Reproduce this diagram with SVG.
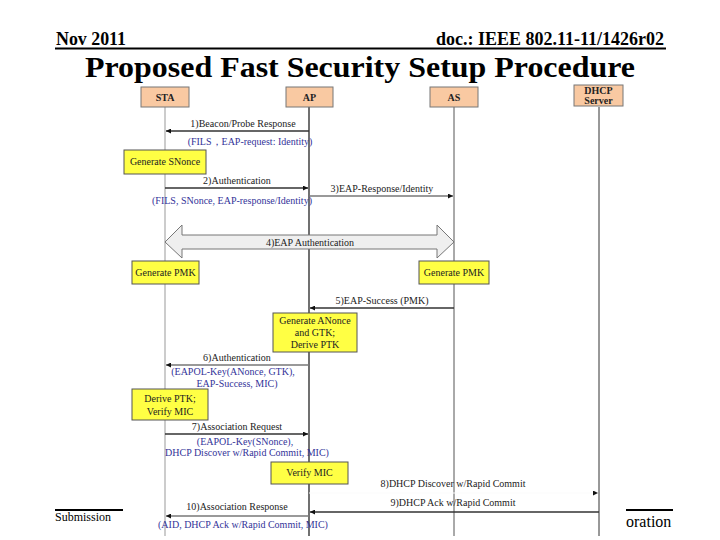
<svg xmlns="http://www.w3.org/2000/svg" width="720" height="540" viewBox="0 0 720 540">
<style>
.hdr{font-family:"Liberation Serif","Times New Roman",serif;font-weight:bold;fill:#000}
.t{font-family:"Liberation Serif","Times New Roman",serif;font-size:10px;fill:#222}
.b{font-family:"Liberation Serif","Times New Roman",serif;font-size:10px;fill:#333399}
.part{fill:#F9C9A2;stroke:#777;stroke-width:1}
.pt{font-family:"Liberation Serif","Times New Roman",serif;font-size:10px;font-weight:bold;fill:#222;text-anchor:middle}
.note{fill:#FFFF44;stroke:#555;stroke-width:1}
.nt{font-family:"Liberation Serif","Times New Roman",serif;font-size:10px;fill:#222;text-anchor:middle}
.msg{stroke:#333;stroke-width:1.3;fill:none}
.msgg{stroke:#777;stroke-width:1.3;fill:none}
.c{text-anchor:middle}
</style>
<defs>
<marker id="ah" viewBox="0 0 10 10" refX="10" refY="5" markerWidth="7" markerHeight="5" markerUnits="userSpaceOnUse" orient="auto">
<path d="M0,0 L10,5 L0,10 z" fill="#111"/>
</marker>
</defs>
<rect width="720" height="540" fill="#fff"/>

<g id="header">
<text class="hdr" x="56" y="45" font-size="18" textLength="70" lengthAdjust="spacingAndGlyphs">Nov 2011</text>
<text class="hdr" x="436" y="45" font-size="18" textLength="228" lengthAdjust="spacingAndGlyphs">doc.: IEEE 802.11-11/1426r02</text>
<line x1="55" y1="48.5" x2="666" y2="48.5" stroke="#000" stroke-width="2"/>
<text class="hdr" x="360" y="77" font-size="30" text-anchor="middle" textLength="550" lengthAdjust="spacingAndGlyphs">Proposed Fast Security Setup Procedure</text>
</g>

<g id="footer">
<line x1="55" y1="510" x2="123" y2="510" stroke="#000" stroke-width="2"/>
<text x="55" y="521" font-family="Liberation Serif, Times New Roman, serif" font-size="12">Submission</text>
<line x1="626" y1="510" x2="673" y2="510" stroke="#000" stroke-width="2"/>
<text x="626" y="527" font-family="Liberation Serif, Times New Roman, serif" font-size="16">oration</text>
</g>

<g id="lifelines">
<line x1="165" y1="107" x2="165" y2="536" stroke="#999" stroke-width="1"/>
<line x1="309" y1="107" x2="309" y2="536" stroke="#111" stroke-width="1.2"/>
<line x1="454" y1="107" x2="454" y2="536" stroke="#555" stroke-width="1"/>
<line x1="599" y1="107" x2="599" y2="536" stroke="#333" stroke-width="1"/>
</g>

<g id="STA"><rect class="part" x="141" y="87" width="48" height="20"/><text class="pt" x="165" y="101">STA</text></g>
<g id="AP"><rect class="part" x="286" y="87" width="47" height="20"/><text class="pt" x="309.5" y="101">AP</text></g>
<g id="AS"><rect class="part" x="430" y="87" width="48" height="20"/><text class="pt" x="454" y="101">AS</text></g>
<g id="DHCP"><rect class="part" x="574" y="85" width="49" height="21"/><text class="pt" x="598.5" y="94">DHCP</text><text class="pt" x="598.5" y="104">Server</text></g>

<g id="connectors">
<line class="msg" x1="309" y1="131" x2="166" y2="131" marker-end="url(#ah)"/>
<line class="msg" x1="165" y1="188" x2="308" y2="188" marker-end="url(#ah)"/>
<line class="msgg" x1="309" y1="196" x2="453" y2="196" marker-end="url(#ah)"/>
<path id="eap" d="M165,242 L182,225 L182,235 L437,235 L437,225 L454,242 L437,258 L437,249 L182,249 L182,258 Z" fill="#EFEFEF" stroke="#777" stroke-width="1"/>
<line class="msg" x1="454" y1="308" x2="310" y2="308" marker-end="url(#ah)"/>
<line class="msgg" x1="309" y1="365" x2="166" y2="365" marker-end="url(#ah)"/>
<line class="msg" x1="165" y1="434" x2="308" y2="434" marker-end="url(#ah)"/>
<line x1="309" y1="493" x2="598" y2="493" stroke="#fbfbfb" stroke-width="1" marker-end="url(#ah)"/>
<line class="msg" x1="599" y1="512" x2="310" y2="512" marker-end="url(#ah)"/>
<line class="msgg" x1="309" y1="516" x2="166" y2="516" marker-end="url(#ah)"/>
</g>

<g id="labels">
<text class="t c" x="243" y="127">1)Beacon/Probe Response</text>
<text class="b c" x="250" y="145">(FILS，EAP-request: Identity)</text>
<text class="t c" x="237" y="184">2)Authentication</text>
<text class="b c" x="232" y="204">(FILS, SNonce, EAP-response/Identity)</text>
<text class="t c" x="382" y="192">3)EAP-Response/Identity</text>
<text class="t c" x="310" y="245.5">4)EAP Authentication</text>
<text class="t c" x="382" y="304">5)EAP-Success (PMK)</text>
<text class="t c" x="237" y="361">6)Authentication</text>
<text class="b c" x="233" y="375">(EAPOL-Key(ANonce, GTK),</text>
<text class="b c" x="237" y="387">EAP-Success, MIC)</text>
<text class="t c" x="237" y="430">7)Association Request</text>
<text class="b c" x="245" y="445">(EAPOL-Key(SNonce),</text>
<text class="b c" x="247" y="456">DHCP Discover w/Rapid Commit, MIC)</text>
<text class="t c" x="453" y="487">8)DHCP Discover w/Rapid Commit</text>
<text class="t c" x="453" y="506">9)DHCP Ack w/Rapid Commit</text>
<text class="t c" x="237" y="510">10)Association Response</text>
<text class="b c" x="243" y="528">(AID, DHCP Ack w/Rapid Commit, MIC)</text>
</g>

<g id="genSNonce"><rect class="note" x="124" y="150" width="82" height="24"/><text class="nt" x="165" y="165">Generate SNonce</text></g>
<g id="genPMK1"><rect class="note" x="132" y="261" width="67" height="23"/><text class="nt" x="165.5" y="276">Generate PMK</text></g>
<g id="genPMK2"><rect class="note" x="419" y="261" width="70" height="23"/><text class="nt" x="454" y="276">Generate PMK</text></g>
<g id="genANonce"><rect class="note" x="273" y="313" width="84" height="39"/><text class="nt" x="315" y="324">Generate ANonce</text><text class="nt" x="315" y="336">and GTK;</text><text class="nt" x="315" y="348">Derive PTK</text></g>
<g id="derivePTK"><rect class="note" x="132" y="389" width="76" height="31"/><text class="nt" x="170" y="402">Derive PTK;</text><text class="nt" x="170" y="415">Verify MIC</text></g>
<g id="verifyMIC"><rect class="note" x="271" y="462" width="77" height="22"/><text class="nt" x="309.5" y="476">Verify MIC</text></g>
</svg>
